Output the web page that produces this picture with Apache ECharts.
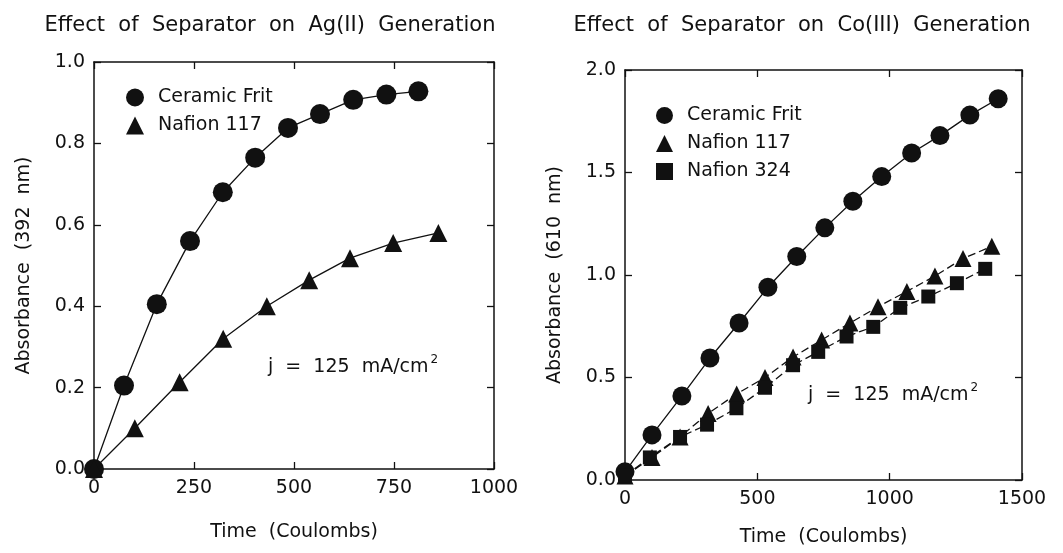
<!DOCTYPE html>
<html>
<head>
<meta charset="utf-8">
<script src="https://cdn.jsdelivr.net/npm/echarts@6/dist/echarts.min.js"></script>
<style>
  html, body { margin: 0; padding: 0; background: #fff; }
  #chart { width: 1063px; height: 553px; }
</style>
</head>
<body>
<div id="chart"></div>
<script>
// Ag(II) panel
const agFritX = [0, 75, 157, 240, 322, 403, 485, 565, 648, 731, 811];
const agFritY = [0, 0.205, 0.405, 0.56, 0.68, 0.765, 0.838, 0.872, 0.907, 0.92, 0.928];
const agN117X = [0, 102, 214, 323, 432, 538, 640, 748, 861];
const agN117Y = [0, 0.10, 0.213, 0.32, 0.40, 0.464, 0.518, 0.555, 0.58];

// Co(III) panel
const coFritX = [0, 102, 215, 321, 431, 540, 649, 755, 861, 970, 1083, 1190, 1303, 1410];
const coFritY = [0.04, 0.22, 0.41, 0.595, 0.766, 0.94, 1.09, 1.23, 1.36, 1.48, 1.595, 1.68, 1.78, 1.86];
const coN117X = [0, 102, 208, 314, 422, 529, 635, 743, 850, 956, 1065, 1171, 1277, 1386];
const coN117Y = [0.02, 0.11, 0.21, 0.325, 0.42, 0.50, 0.60, 0.683, 0.766, 0.845, 0.92, 0.995, 1.08, 1.14];
const coN324X = [0, 94, 208, 310, 421, 529, 635, 730, 837, 938, 1040, 1146, 1254, 1361];
const coN324Y = [0.02, 0.11, 0.21, 0.27, 0.35, 0.45, 0.56, 0.625, 0.70, 0.747, 0.84, 0.895, 0.96, 1.03];

const ink = '#111';
const font = 'DejaVu Sans';

const pairs = (xs, ys) => xs.map((x, i) => [x, ys[i]]);

const chart = echarts.init(document.getElementById('chart'));

function xAxisFor(grid, max, interval, bottom, gap) {
    return {
        type: 'value', gridIndex: grid, min: 0, max: max, interval: interval,
        position: bottom ? 'bottom' : 'top',
        name: bottom ? 'Time  (Coulombs)' : '',
        nameLocation: 'middle', nameGap: gap || 50,
        nameTextStyle: { color: ink, fontFamily: font, fontSize: 19 },
        axisLine: { show: true, onZero: false, lineStyle: { color: ink, width: 1.5 } },
        axisTick: { show: true, inside: true, length: 7, lineStyle: { color: ink, width: 1.3 } },
        axisLabel: { show: bottom, color: ink, fontFamily: font, fontSize: 19, margin: 10,
                     formatter: v => String(v) },
        splitLine: { show: false }
    };
}

function yAxisFor(grid, max, interval, left, name) {
    return {
        type: 'value', gridIndex: grid, min: 0, max: max, interval: interval,
        position: left ? 'left' : 'right',
        name: left ? name : '',
        nameLocation: 'middle', nameGap: 60,
        nameTextStyle: { color: ink, fontFamily: font, fontSize: 19 },
        axisLine: { show: true, onZero: false, lineStyle: { color: ink, width: 1.5 } },
        axisTick: { show: true, inside: true, length: 7, lineStyle: { color: ink, width: 1.3 } },
        axisLabel: {
            show: left, color: ink, fontFamily: font, fontSize: 19, margin: 9,
            formatter: v => v.toFixed(1)
        },
        splitLine: { show: false }
    };
}

function lineSeries(name, xi, yi, data, symbol, size, dashed) {
    return {
        type: 'line', name: name, xAxisIndex: xi, yAxisIndex: yi,
        data: data, symbol: symbol, symbolSize: size,
        itemStyle: { color: ink },
        lineStyle: { color: ink, width: 1.3, type: dashed ? [8, 4] : 'solid' },
        animation: false
    };
}

const legendText = { color: ink, fontFamily: font, fontSize: 19, padding: [0, 0, 0, 9] };
const jText = 'j  =  125  mA/cm{sup|2}';
const jRich = { sup: { fontSize: 12, verticalAlign: 'top', padding: [0, 0, 14, 2], fill: ink, fontFamily: font } };
const titleStyle = { color: ink, fontFamily: font, fontSize: 21, fontWeight: 'normal' };

chart.setOption({
    backgroundColor: '#fff',
    title: [
        { text: 'Effect  of  Separator  on  Ag(II)  Generation', left: 265, top: 10, textAlign: 'center',
          textStyle: titleStyle },
        { text: 'Effect  of  Separator  on  Co(III)  Generation', left: 797, top: 10, textAlign: 'center',
          textStyle: titleStyle }
    ],
    grid: [
        { left: 94, top: 62, width: 400, height: 407 },
        { left: 625, top: 70, width: 397, height: 410 }
    ],
    xAxis: [
        xAxisFor(0, 1000, 250, true, 54),
        xAxisFor(0, 1000, 250, false),
        xAxisFor(1, 1500, 500, true, 48),
        xAxisFor(1, 1500, 500, false)
    ],
    yAxis: [
        yAxisFor(0, 1.0, 0.2, true, 'Absorbance  (392  nm)'),
        yAxisFor(0, 1.0, 0.2, false),
        yAxisFor(1, 2.0, 0.5, true, 'Absorbance  (610  nm)'),
        yAxisFor(1, 2.0, 0.5, false)
    ],
    legend: [
        {
            orient: 'vertical', left: 126, top: 88, padding: 0, itemWidth: 18, itemHeight: 18, itemGap: 9,
            selectedMode: false, textStyle: legendText,
            data: [
                { name: 'Ceramic Frit', icon: 'circle', itemStyle: { color: ink } },
                { name: 'Nafion 117', icon: 'triangle', itemStyle: { color: ink } }
            ]
        },
        {
            orient: 'vertical', left: 656, top: 106, padding: 0, itemWidth: 17, itemHeight: 17, itemGap: 9,
            selectedMode: false, textStyle: legendText,
            data: [
                { name: 'Ceramic Frit', icon: 'circle', itemStyle: { color: ink } },
                { name: 'Nafion 117', icon: 'triangle', itemStyle: { color: ink } },
                { name: 'Nafion 324', icon: 'rect', itemStyle: { color: ink } }
            ]
        }
    ],
    graphic: [
        { type: 'text', left: 268, top: 354,
          style: { text: jText, fill: ink, font: '19px "DejaVu Sans"', rich: jRich } },
        { type: 'text', left: 808, top: 382,
          style: { text: jText, fill: ink, font: '19px "DejaVu Sans"', rich: jRich } }
    ],
    series: [
        lineSeries('Ceramic Frit', 0, 0, pairs(agFritX, agFritY), 'circle', 20, false),
        lineSeries('Nafion 117', 0, 0, pairs(agN117X, agN117Y), 'triangle', 18, false),
        lineSeries('Ceramic Frit', 2, 2, pairs(coFritX, coFritY), 'circle', 19, false),
        lineSeries('Nafion 117', 2, 2, pairs(coN117X, coN117Y), 'triangle', 17, true),
        lineSeries('Nafion 324', 2, 2, pairs(coN324X, coN324Y), 'rect', 14, true)
    ]
});
</script>
</body>
</html>
